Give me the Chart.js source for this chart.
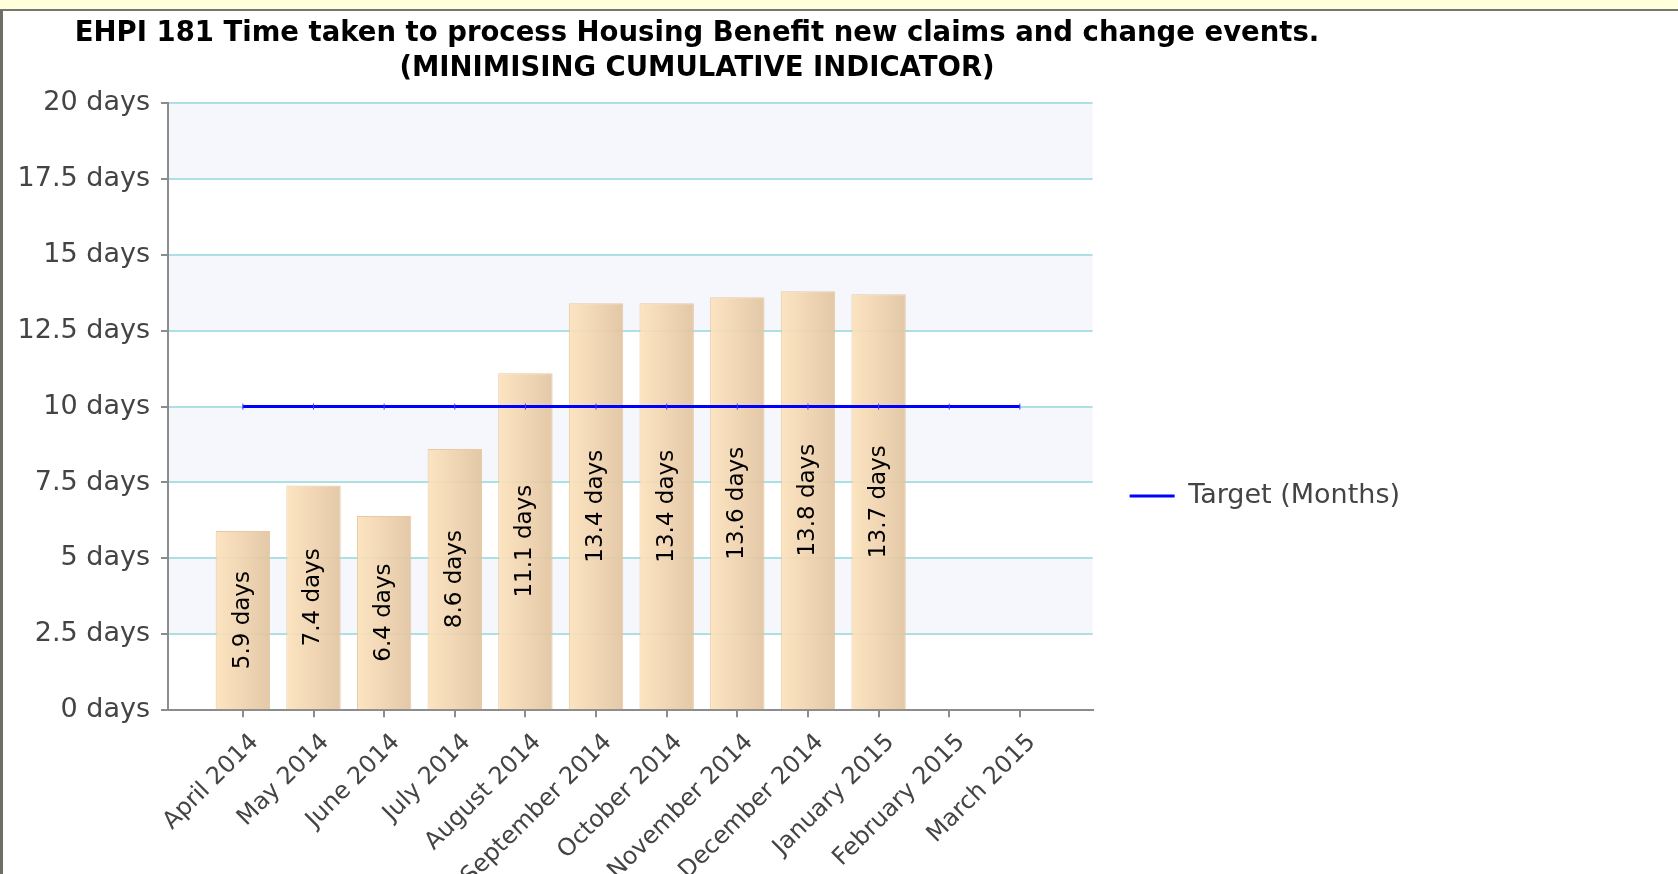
<!DOCTYPE html>
<html>
<head>
<meta charset="utf-8">
<script src="https://cdn.jsdelivr.net/npm/chart.js@4.4.1/dist/chart.umd.min.js"></script>
<style>
  html, body { margin: 0; padding: 0; background: #fff; overflow: hidden; }
  #strip { position: absolute; left: 0; top: 0; width: 1678px; height: 9px; background: #ffffdc; border-bottom: 2px solid #77776e; z-index: 2; }
  #edge { position: absolute; left: 0; top: 10px; width: 3px; height: 864px; background: #6e6e66; z-index: 2; }
  #wrap { position: absolute; left: -16px; top: 11px; width: 1426px; height: 891px; }
</style>
</head>
<body>
<div id="strip"></div>
<div id="edge"></div>
<div id="wrap"><canvas id="ehpi-chart"></canvas></div>
<script>
var months = ['April 2014', 'May 2014', 'June 2014', 'July 2014', 'August 2014', 'September 2014',
  'October 2014', 'November 2014', 'December 2014', 'January 2015', 'February 2015', 'March 2015'];
var days = [5.9, 7.4, 6.4, 8.6, 11.1, 13.4, 13.4, 13.6, 13.8, 13.7, null, null];
var target = [10, 10, 10, 10, 10, 10, 10, 10, 10, 10, 10, 10];
var yTicks = [0, 2.5, 5, 7.5, 10, 12.5, 15, 17.5, 20];
var titleLines = ['EHPI 181 Time taken to process Housing Benefit new claims and change events.',
  '(MINIMISING CUMULATIVE INDICATOR)'];

var FONT = "'DejaVu Sans', sans-serif";
var BAR_PCT = 0.77;

// lavender bands behind every other grid interval
var bandsPlugin = {
  id: 'bands',
  beforeDraw: function(chart) {
    var ctx = chart.ctx, area = chart.chartArea, y = chart.scales.y;
    ctx.save();
    ctx.fillStyle = '#f6f7fd';
    for (var i = yTicks.length - 1; i > 0; i -= 2) {
      var top = y.getPixelForValue(yTicks[i]);
      var bottom = y.getPixelForValue(yTicks[i - 1]);
      ctx.fillRect(area.left, top, area.right - area.left, bottom - top);
    }
    ctx.restore();
  }
};

// vertical value labels inside the bars
var barLabels = {
  id: 'barLabels',
  afterDatasetsDraw: function(chart) {
    var ctx = chart.ctx;
    var meta = chart.getDatasetMeta(1);
    ctx.save();
    ctx.font = '23px ' + FONT;
    ctx.fillStyle = '#000';
    ctx.textAlign = 'center';
    ctx.textBaseline = 'middle';
    meta.data.forEach(function(bar, i) {
      if (days[i] == null) return;
      ctx.save();
      ctx.translate(bar.x, (bar.y + bar.base) / 2);
      ctx.rotate(-Math.PI / 2);
      ctx.fillText(days[i].toFixed(1) + ' days', 0, 0);
      ctx.restore();
    });
    ctx.restore();
  }
};

function barFill(context) {
  var chart = context.chart;
  var x = chart.scales.x;
  if (!chart.chartArea || context.type !== 'data') return '#f3d7b2';
  var cx = x.getPixelForValue(context.dataIndex);
  var hw = (x.getPixelForValue(1) - x.getPixelForValue(0)) * BAR_PCT / 2;
  var g = chart.ctx.createLinearGradient(cx - hw, 0, cx + hw, 0);
  g.addColorStop(0, 'rgba(253, 226, 188, 0.92)');
  g.addColorStop(1, 'rgba(225, 196, 160, 0.92)');
  return g;
}

var config = {
  data: {
    datasets: [
      {
        type: 'line',
        label: 'Target (Months)',
        data: months.map(function(m, i) { return { x: i, y: target[i] }; }),
        borderColor: '#0000ff',
        backgroundColor: '#0000ff',
        borderWidth: 3,
        pointStyle: 'line',
        rotation: 90,
        pointRadius: 3,
        pointBorderWidth: 1,
        pointBorderColor: '#3b3bff',
        order: 0
      },
      {
        type: 'bar',
        label: 'Days',
        data: months.map(function(m, i) { return { x: i, y: days[i] }; }),
        backgroundColor: barFill,
        borderColor: 'rgba(228, 196, 154, 0.9)',
        borderWidth: 1,
        barPercentage: BAR_PCT,
        categoryPercentage: 1,
        order: 1
      }
    ]
  },
  options: {
    responsive: true,
    maintainAspectRatio: false,
    animation: false,
    layout: { padding: 0 },
    scales: {
      x: {
        type: 'linear',
        min: -1.06,
        max: 12.03,
        offset: false,
        grid: { offset: false, drawOnChartArea: false, tickLength: 7, tickColor: '#8c8c8c', lineWidth: 2 },
        border: { color: '#8c8c8c', width: 2 },
        ticks: {
          stepSize: 1,
          includeBounds: false,
          maxTicksLimit: 20,
          autoSkip: false,
          minRotation: 45,
          maxRotation: 45,
          padding: 11,
          labelOffset: 12,
          color: '#444',
          font: { family: FONT, size: 24 },
          callback: function(v) { return months[v] !== undefined ? months[v] : null; }
        }
      },
      y: {
        min: 0,
        max: 20,
        afterFit: function(scale) { scale.width = 184; },
        afterBuildTicks: function(scale) { scale.ticks = yTicks.map(function(v) { return { value: v }; }); },
        grid: { color: '#ade0e3', lineWidth: 2, tickLength: 7, tickColor: '#8c8c8c' },
        border: { color: '#8c8c8c', width: 2 },
        ticks: {
          padding: 11,
          color: '#444',
          font: { family: FONT, size: 27 },
          callback: function(v) { return v + ' days'; }
        }
      }
    },
    plugins: {
      title: {
        display: true,
        text: titleLines,
        color: '#000',
        font: { family: FONT, size: 27.5, weight: 'bold', lineHeight: 1.28 },
        padding: { top: 5, bottom: 16.5 }
      },
      legend: {
        position: 'right',
        title: { display: true, text: ' ', font: { size: 10, lineHeight: 1.2 }, padding: { top: 67, bottom: 0 } },
        labels: {
          boxWidth: 45,
          boxHeight: 3,
          padding: 37,
          color: '#444',
          font: { family: FONT, size: 27 },
          generateLabels: function(chart) {
            return Chart.defaults.plugins.legend.labels.generateLabels(chart)
              .filter(function(l) { return l.datasetIndex === 0; })
              .map(function(l) { l.lineWidth = 0; return l; });
          }
        },
        onClick: function() {}
      },
      tooltip: { enabled: false }
    }
  },
  plugins: [bandsPlugin, barLabels]
};

var ctx = document.getElementById('ehpi-chart').getContext('2d');
var ehpiChart = new Chart(ctx, config);
</script>
</body>
</html>
